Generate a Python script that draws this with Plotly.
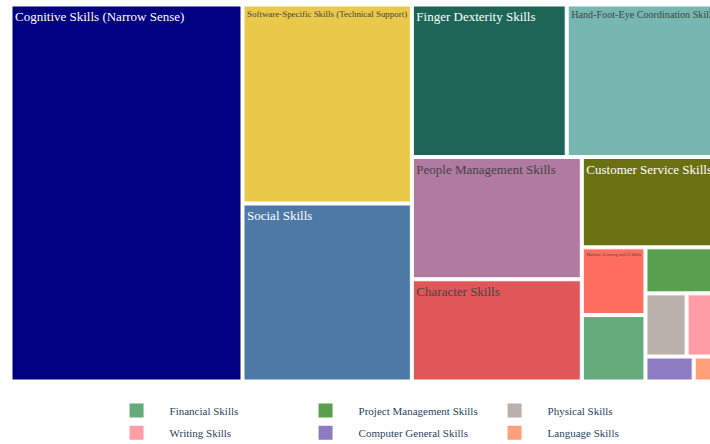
import plotly.graph_objects as go

# Skill categories and their shares
labels = [
    "Cognitive Skills (Narrow Sense)",
    "Software-Specific Skills (Technical Support)",
    "Social Skills",
    "Finger Dexterity Skills",
    "Hand-Foot-Eye Coordination Skills",
    "People Management Skills",
    "Character Skills",
    "Customer Service Skills",
    "Machine Learning and AI Skills",
    "Financial Skills",
    "Project Management Skills",
    "Physical Skills",
    "Writing Skills",
    "Computer General Skills",
    "Language Skills",
]
values = [32.67, 12.59, 11.26, 8.82, 8.76, 7.76, 6.49, 4.68,
          1.61, 1.58, 1.29, 0.97, 0.80, 0.45, 0.25]
colors = [
    "#000080", "#EAC84A", "#4E79A7", "#1D6556", "#76B7B2",
    "#B07AA1", "#E15759", "#6B7012", "#FF6F61", "#65AB7C",
    "#59A14F", "#BAB0AC", "#FF9DA7", "#8E7CC3", "#FFA07A",
]

# Smaller categories go in the legend instead of carrying a tile label
legend_rows = [
    ["Financial Skills", "Project Management Skills", "Physical Skills"],
    ["Writing Skills", "Computer General Skills", "Language Skills"],
]
in_legend = {n for row in legend_rows for n in row}
tile_text = ["" if n in in_legend else n for n in labels]

serif = "Times New Roman, Liberation Serif, serif"

fig = go.Figure()
fig.add_trace(go.Treemap(
    labels=labels,
    parents=[""] * len(labels),
    values=values,
    text=tile_text,
    texttemplate="%{text}",
    marker=dict(colors=colors, line=dict(color="white", width=1),
                pad=dict(t=0, l=0, r=0, b=0)),
    textfont=dict(family=serif, size=13),
    pathbar=dict(visible=False),
    sort=True,
    hoverinfo="label+value",
))

color_of = dict(zip(labels, colors))
legend_ids = ["legend", "legend2"]
for lid, row in zip(legend_ids, legend_rows):
    for name in row:
        fig.add_trace(go.Scatter(
            x=[None], y=[None], mode="markers", name=name,
            marker=dict(symbol="square", size=14, color=color_of[name]),
            showlegend=True, legend=lid,
        ))

legend_style = dict(
    orientation="h", xanchor="left", x=0.1295, yanchor="top",
    entrywidth=118, itemwidth=56,
    font=dict(family=serif, size=11, color="#2a3f5f"),
    bgcolor="rgba(0,0,0,0)",
)

fig.update_layout(
    width=731, height=444,
    margin=dict(l=12, r=12, t=6, b=64, autoexpand=False),
    paper_bgcolor="white", plot_bgcolor="white",
    font=dict(family=serif, size=12, color="#2a3f5f"),
    xaxis=dict(visible=False), yaxis=dict(visible=False),
    legend=dict(legend_style, y=-0.043),
    legend2=dict(legend_style, y=-0.102),
)

fig.write_html("out.html")
